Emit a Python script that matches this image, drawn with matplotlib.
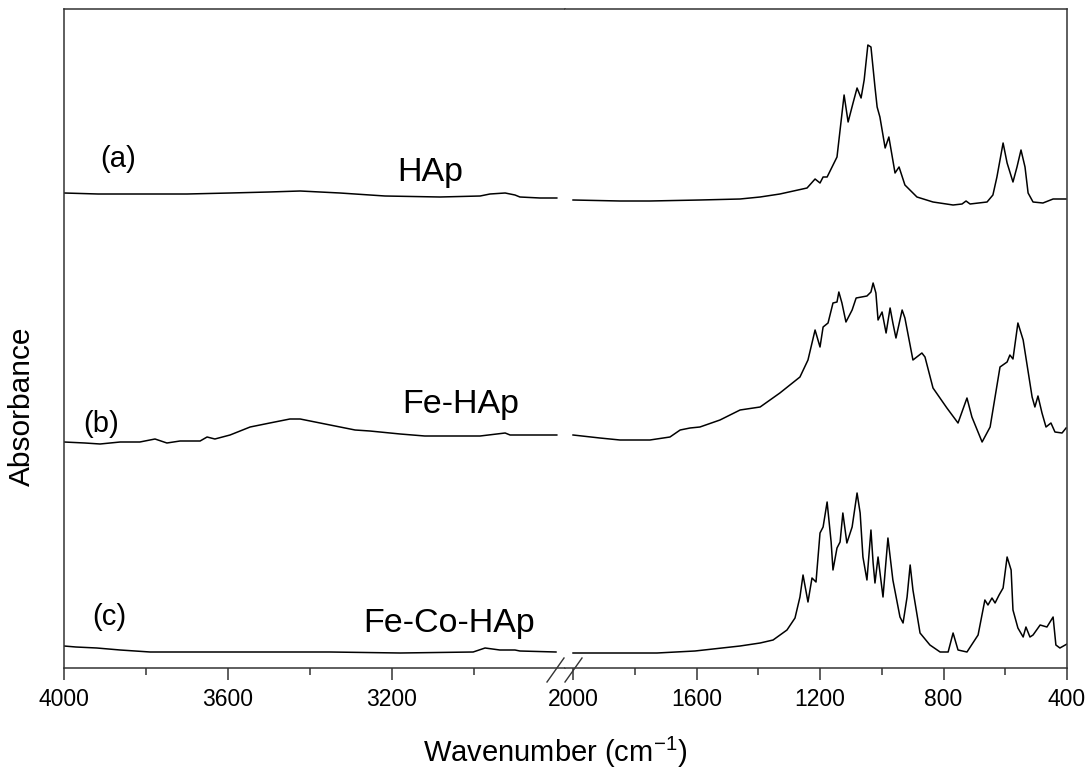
import matplotlib
matplotlib.use("Agg")
import matplotlib.pyplot as plt
from matplotlib.lines import Line2D

plt.rcParams['font.family'] = ['Liberation Sans', 'DejaVu Sans']
plt.rcParams['mathtext.fontset'] = 'custom'
plt.rcParams['mathtext.rm'] = 'Liberation Sans'
plt.rcParams['mathtext.default'] = 'regular'

# ---------------- data (wavenumber cm-1, absorbance a.u., offset-stacked) -------------
hap_hi_wn = [4000, 3917, 3863, 3700, 3595, 3500, 3424, 3327, 3217, 3083, 2985, 2961, 2924,
             2900, 2888, 2839, 2798]
hap_hi_ab = [475, 474, 474, 474, 475, 476, 477, 475, 472, 471, 472, 474, 475, 473, 471, 470, 470]

hap_lo_wn = [2000, 1848, 1751, 1589, 1459, 1394, 1330, 1242, 1216, 1200, 1190, 1177, 1161, 1145,
             1135, 1122, 1109, 1093, 1080, 1067, 1057, 1045, 1035, 1022, 1015, 1006, 989, 977,
             957, 944, 925, 886, 834, 769, 740, 727, 714, 659, 640, 627, 607, 594, 575, 562,
             549, 536, 526, 510, 478, 445, 403]
hap_lo_ab = [468, 467, 467, 468, 469, 471, 474, 480, 489, 485, 491, 491, 501, 511,
             538, 573, 546, 565, 580, 570, 588, 623, 621, 581, 561, 551, 520, 531,
             495, 501, 483, 471, 466, 463, 464, 467, 464, 466, 473, 491, 525, 505, 486, 501,
             518, 501, 475, 466, 465, 469, 469]

fe_hi_wn = [4000, 3949, 3912, 3863, 3815, 3778, 3749, 3717, 3668, 3651, 3632, 3595, 3546, 3498,
            3449, 3424, 3351, 3290, 3254, 3180, 3120, 2985, 2924, 2912, 2798]
fe_hi_ab = [226, 225, 224, 226, 226, 229, 225, 227, 227, 231, 229, 233, 241, 245,
            249, 249, 243, 238, 237, 234, 232, 232, 235, 233, 233]

fe_lo_wn = [2000, 1913, 1848, 1751, 1686, 1653, 1621, 1589, 1524, 1459, 1394, 1330, 1265, 1239,
            1216, 1200, 1190, 1174, 1158, 1145, 1139, 1129, 1116, 1096, 1083, 1048, 1035, 1028,
            1019, 1012, 999, 986, 973, 964, 954, 934, 925, 899, 870, 860, 834, 789, 753, 724,
            708, 675, 649, 617, 594, 585, 575, 559, 542, 513, 504, 494, 481, 468, 452, 439,
            416, 403]
fe_lo_ab = [233, 230, 228, 228, 231, 238, 240, 241, 248, 258, 261, 275, 291, 308,
            338, 321, 341, 345, 365, 366, 376, 365, 346, 358, 370, 372, 376, 385,
            375, 348, 356, 335, 360, 345, 330, 358, 350, 308, 315, 311, 280, 260, 245, 270,
            251, 226, 241, 301, 306, 313, 309, 345, 328, 271, 261, 272, 255, 241, 245, 236,
            235, 240]

feco_hi_wn = [4000, 3971, 3920, 3863, 3790, 3693, 3588, 3351, 3180, 3002, 2973, 2937, 2900,
              2888, 2800]
feco_hi_ab = [22, 21, 20, 18, 16, 16, 16, 16, 15, 16, 20, 18, 18, 17, 16]

feco_lo_wn = [2000, 1728, 1605, 1459, 1394, 1352, 1307, 1281, 1265, 1255, 1239, 1226, 1213,
              1200, 1190, 1177, 1164, 1158, 1145, 1135, 1126, 1113, 1096, 1080, 1070, 1061,
              1048, 1035, 1028, 1022, 1012, 996, 980, 964, 941, 931, 918, 908, 899, 876, 844,
              811, 785, 769, 753, 724, 688, 666, 656, 643, 633, 620, 607, 594, 581, 575, 559,
              542, 533, 520, 510, 487, 465, 445, 436, 423, 400]
feco_lo_ab = [15, 15, 17, 22, 25, 28, 38, 50, 71, 93, 66, 90, 86,
              135, 141, 166, 126, 98, 120, 126, 155, 125, 141, 175, 155, 111,
              88, 138, 105, 85, 111, 71, 130, 88, 51, 45, 71, 103, 78, 35, 23,
              16, 16, 35, 18, 16, 33, 68, 63, 70, 65, 73, 80, 111, 98, 58, 40,
              31, 41, 31, 33, 43, 41, 51, 23, 20, 24]

left_major = [4000, 3600, 3200]
left_minor = [3800, 3400, 3000]
right_major = [2000, 1600, 1200, 800, 400]
right_minor = [1800, 1400, 1000, 600]

# ---------------- figure ----------------
W, H = 1091, 773
fig = plt.figure(figsize=(W / 100, H / 100), dpi=100)
axL = fig.add_axes([64 / W, 105 / H, 501 / W, 659 / H])
axR = fig.add_axes([565 / W, 105 / H, 502 / W, 659 / H])

spine_c = '#333333'
for ax in (axL, axR):
    ax.set_ylim(0, 659)
    ax.set_yticks([])
    for s in ax.spines.values():
        s.set_color(spine_c)
        s.set_linewidth(1.1)
    ax.tick_params(axis='x', which='major', direction='out', length=8.6, width=1.1,
                   color=spine_c, labelsize=16.5, pad=6)
    ax.tick_params(axis='x', which='minor', direction='out', length=5, width=1.1,
                   color=spine_c)
axL.spines['right'].set_visible(False)
axR.spines['left'].set_visible(False)

axL.set_xlim(4000, 2778)
axR.set_xlim(2026, 400)
axL.set_xticks(left_major)
axL.set_xticks(left_minor, minor=True)
axR.set_xticks(right_major)
axR.set_xticks(right_minor, minor=True)

lw = 1.1
for ax, wn_list, ab_list in (
        (axL, [hap_hi_wn, fe_hi_wn, feco_hi_wn], [hap_hi_ab, fe_hi_ab, feco_hi_ab]),
        (axR, [hap_lo_wn, fe_lo_wn, feco_lo_wn], [hap_lo_ab, fe_lo_ab, feco_lo_ab])):
    for wn, ab in zip(wn_list, ab_list):
        ax.plot(wn, ab, color='black', lw=lw)

# break marks on the bottom axis
for x0 in (547, 565):
    fig.add_artist(Line2D([x0 / W, (x0 + 17) / W], [(H - 682) / H, (H - 658) / H],
                          transform=fig.transFigure, color=spine_c, lw=1.0))

# labels
axL.text(3912, 501, '(a)', fontsize=21, ha='left', va='baseline')
axL.text(3188, 487, 'HAp', fontsize=24.5, ha='left', va='baseline')
axL.text(3954, 236, '(b)', fontsize=21, ha='left', va='baseline')
axL.text(3176, 255, 'Fe-HAp', fontsize=24.5, ha='left', va='baseline')
axL.text(3932, 43, '(c)', fontsize=21, ha='left', va='baseline')
axL.text(3271, 36, 'Fe-Co-HAp', fontsize=24.5, ha='left', va='baseline')

fig.text(22 / W, (H - 406) / H, 'Absorbance', rotation=90, fontsize=21.5,
         ha='center', va='center')
fig.text(555 / W, (H - 752) / H, 'Wavenumber (cm$^{-1}$)', fontsize=21,
         ha='center', va='center')

fig.savefig('out.png', dpi=100)
